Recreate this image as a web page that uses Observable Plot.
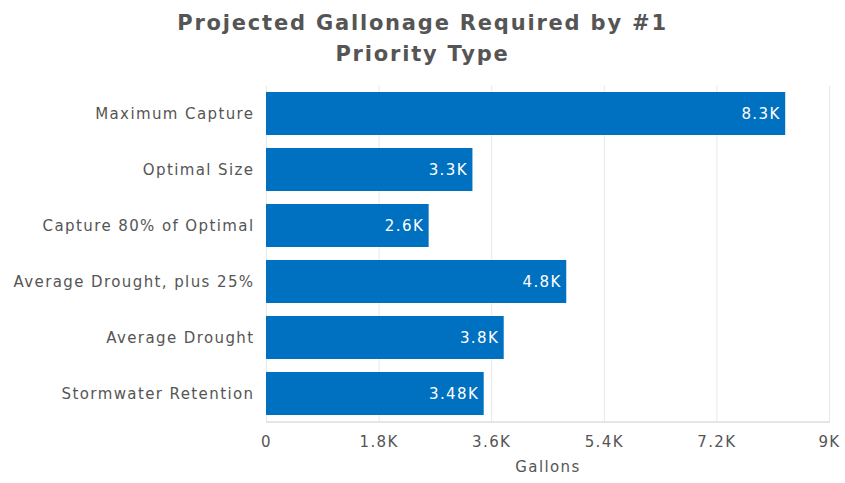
<!DOCTYPE html>
<html><head><meta charset="utf-8">
<script src="https://cdn.jsdelivr.net/npm/d3@7"></script>
<script src="https://cdn.jsdelivr.net/npm/@observablehq/plot@0.6"></script>
<style>
body{margin:0;background:#fff;font-family:"DejaVu Sans",sans-serif;}
#title{height:75px;box-sizing:border-box;padding-top:8px;text-align:center;font-weight:bold;font-size:21px;line-height:31px;color:#555;width:845px;letter-spacing:1.8px;}
#chart svg{letter-spacing:1.4px;}
</style></head>
<body>
<div id="title">Projected Gallonage Required by #1<br>Priority Type</div>
<div id="chart"></div>
<script>
const categories = ["Maximum Capture","Optimal Size","Capture 80% of Optimal","Average Drought, plus 25%","Average Drought","Stormwater Retention"];
const gallons = [8300, 3300, 2600, 4800, 3800, 3480];
const tickValues = [0, 1800, 3600, 5400, 7200, 9000];

const data = categories.map((c, i) => ({category: c, value: gallons[i]}));
const fmt = v => v === 0 ? "0" : d3.format("~s")(v).replace("k", "K");

const chart = Plot.plot({
  width: 845,
  height: 408,
  marginTop: 10.5,
  marginBottom: 61.5,
  marginLeft: 266,
  marginRight: 16,
  style: {fontFamily: "DejaVu Sans, sans-serif", fontSize: "15px", color: "#555", background: "#fff"},
  x: {domain: [0, 9000], ticks: tickValues, tickFormat: fmt, label: "Gallons", labelArrow: "none", labelAnchor: "center", labelOffset: 50, tickSize: 0, tickPadding: 14},
  y: {domain: categories, paddingInner: 0.23, paddingOuter: 0.115, label: null, tickSize: 0, tickPadding: 12},
  marks: [
    Plot.gridX(tickValues, {stroke: "#e8e8e8", strokeOpacity: 1}),
    Plot.barX(data, {x: "value", y: "category", fill: "#0070c0"}),
    Plot.frame({anchor: "bottom", stroke: "#ccc"}),
    Plot.text(data, {x: "value", y: "category", text: d => fmt(d.value), fill: "#fff", textAnchor: "end", dx: -5, fontSize: 15}),
    Plot.axisX({ticks: tickValues, tickFormat: fmt, tickSize: 0, tickPadding: 14, label: "Gallons", labelArrow: "none", labelAnchor: "center", labelOffset: 50, fill: "#555"}),
    Plot.axisY({tickSize: 0, tickPadding: 12, label: null, fill: "#555"})
  ]
});
document.getElementById("chart").appendChild(chart);
</script>
</body></html>
